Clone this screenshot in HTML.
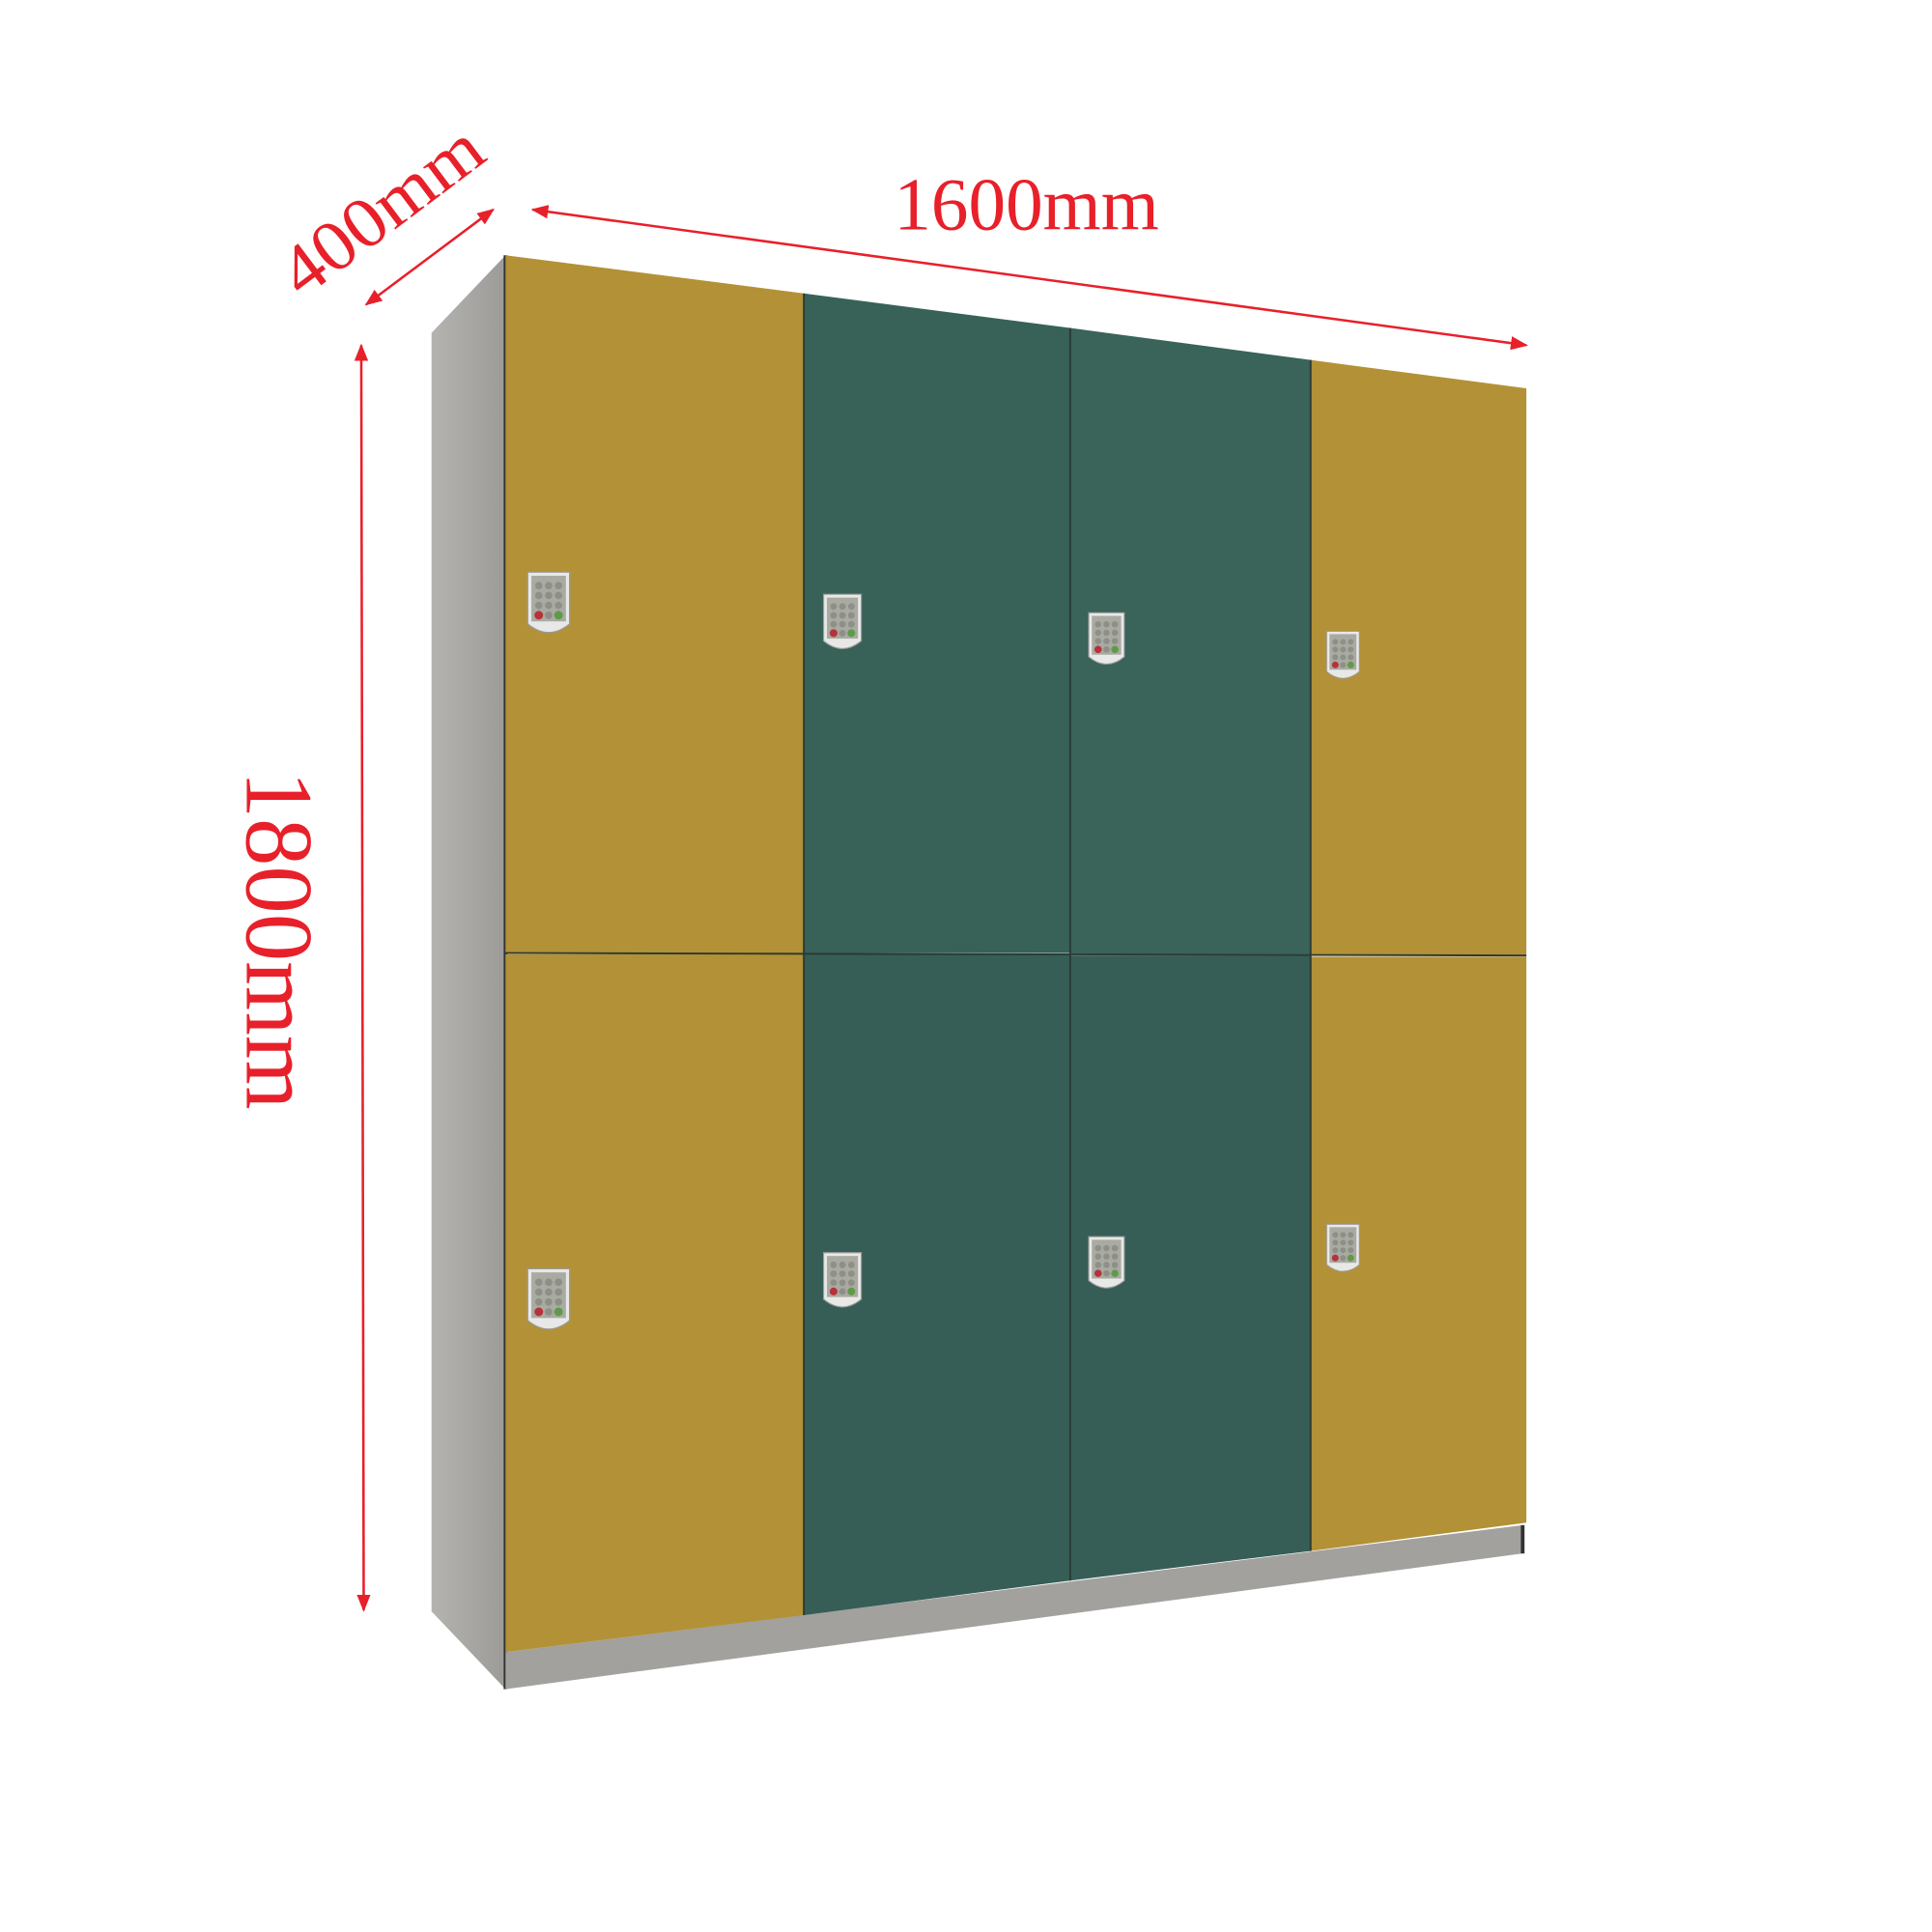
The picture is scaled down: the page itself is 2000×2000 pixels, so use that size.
<!DOCTYPE html>
<html><head><style>html,body{margin:0;padding:0;background:#fff}svg{display:block}</style></head>
<body>
<svg width="2000" height="2000" viewBox="0 0 1567 1567" xmlns="http://www.w3.org/2000/svg">
<defs>
<linearGradient id="side" x1="0" x2="1" y1="0" y2="0"><stop offset="0" stop-color="#b4b3b0"/><stop offset="1" stop-color="#9c9b98"/></linearGradient>
<g id="lock">
<path d="M0,0 h34 v42 q-17,14 -34,0 z" fill="#e8e8e6" stroke="#9a9a98" stroke-width="1"/>
<rect x="3" y="3" width="28" height="37" fill="#a9aaa2"/>
<g fill="#8e9088">
<circle cx="9" cy="11" r="3"/><circle cx="17" cy="11" r="3"/><circle cx="25" cy="11" r="3"/>
<circle cx="9" cy="19" r="3"/><circle cx="17" cy="19" r="3"/><circle cx="25" cy="19" r="3"/>
<circle cx="9" cy="27" r="3"/><circle cx="17" cy="27" r="3"/><circle cx="25" cy="27" r="3"/>
</g>
<circle cx="9" cy="35" r="3.5" fill="#b8303a"/><circle cx="17" cy="35" r="3" fill="#8e9088"/><circle cx="25" cy="35" r="3.5" fill="#5f9a4a"/>
</g>
<marker id="ah" viewBox="0 0 10 10" refX="9" refY="5" markerWidth="7" markerHeight="7" orient="auto-start-reverse"><path d="M0,1 L10,5 L0,9 z" fill="#e8202a"/></marker>
</defs>
<polygon points="350,270 410,207 410,1370 350,1307" fill="url(#side)"/>
<line x1="410" y1="207" x2="410" y2="1370" stroke="#333" stroke-width="3"/>
<polygon points="410,1340 1235,1237 1235,1260 410,1370" fill="#a2a19e"/>
<line x1="1235" y1="1237" x2="1235" y2="1260" stroke="#333" stroke-width="3"/>
<polygon points="410,207 652,238 652,773 410,773" fill="#b39136"/>
<polygon points="410,774 652,774 652,1310 410,1340" fill="#b39136"/>
<polygon points="652,238 868,266 868,773 652,773" fill="#386258"/>
<polygon points="652,774 868,774 868,1282 652,1310" fill="#365e56"/>
<polygon points="868,266 1063,292 1063,774 868,774" fill="#3a635a"/>
<polygon points="868,775 1063,775 1063,1258 868,1282" fill="#365e56"/>
<polygon points="1063,292 1238,315 1238,775 1063,775" fill="#b39136"/>
<polygon points="1063,776 1238,776 1238,1235 1063,1258" fill="#b39136"/>
<g stroke="#2a3a34" stroke-width="1.5">
<line x1="652" y1="238" x2="652" y2="1310"/><line x1="868" y1="266" x2="868" y2="1282"/><line x1="1063" y1="292" x2="1063" y2="1258"/>
<line x1="410" y1="773" x2="1238" y2="775"/>
</g>
<use href="#lock" transform="translate(428,464)"/>
<use href="#lock" transform="translate(668,482) scale(0.9)"/>
<use href="#lock" transform="translate(883,497) scale(0.85)"/>
<use href="#lock" transform="translate(1076,512) scale(0.78)"/>
<use href="#lock" transform="translate(428,1029)"/>
<use href="#lock" transform="translate(668,1016) scale(0.9)"/>
<use href="#lock" transform="translate(883,1003) scale(0.85)"/>
<use href="#lock" transform="translate(1076,993) scale(0.78)"/>
<g stroke="#e8202a" stroke-width="2" fill="none">
<line x1="432" y1="170" x2="1238" y2="280" marker-start="url(#ah)" marker-end="url(#ah)"/>
<line x1="293" y1="280" x2="295" y2="1306" marker-start="url(#ah)" marker-end="url(#ah)"/>
<line x1="297" y1="247" x2="400" y2="170" marker-start="url(#ah)" marker-end="url(#ah)"/>
</g>
<g fill="#e8202a" font-family="Liberation Serif, serif">
<text x="725" y="186" font-size="61" textLength="215" lengthAdjust="spacingAndGlyphs">1600mm</text>
<text transform="translate(200,625) rotate(90)" font-size="78" textLength="275" lengthAdjust="spacingAndGlyphs">1800mm</text>
<text transform="translate(245,243) rotate(-37)" font-size="58" textLength="190" lengthAdjust="spacingAndGlyphs">400mm</text>
</g>
</svg>
</body></html>
